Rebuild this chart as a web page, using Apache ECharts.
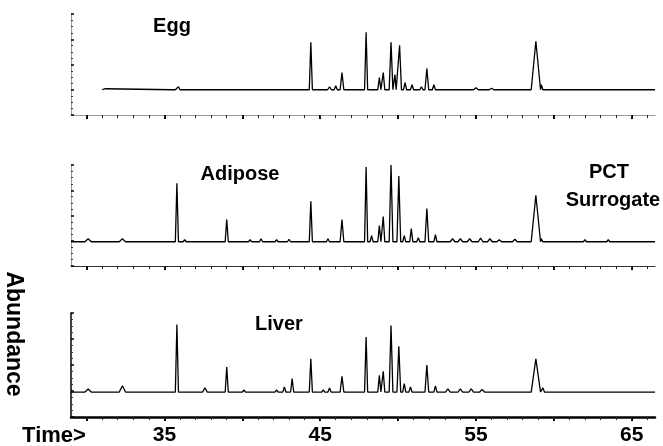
<!DOCTYPE html>
<html><head><meta charset="utf-8">
<script src="https://cdn.jsdelivr.net/npm/echarts@6/dist/echarts.min.js"></script>
<style>html,body{margin:0;padding:0;background:#fff}#c{width:663px;height:446px}</style>
</head><body><div id="c"></div>
<script>
// ---- axis data ----
const timeMin = 29;
const timeMax = 66.5;
const labelTimes = [35, 45, 55, 65];
const majorTickTimes = [30, 35, 40, 45, 50, 55, 60, 65];
const minorTickTimes = [30,31,32,33,34,35,36,37,38,39,40,41,42,43,44,45,46,47,48,49,50,51,52,53,54,55,56,57,58,59,60,61,62,63,64,65,66];
const panelTitles = ['Egg', 'Adipose', 'Liver'];

// ---- Egg trace ----
const eggBaseline = 25;
const eggStart = 31;
const eggEnd = 66.5;
const eggTimes   = [31.2, 35.6, 35.9, 38.9, 40.0, 41.2, 42.0, 43.0, 44.4, 45.6, 46.0, 46.4, 47.95, 48.8, 49.05, 49.55, 49.8, 50.1, 50.45, 50.9, 51.5, 51.85, 52.3, 53.0, 55.0, 56.0, 57.5, 58.85, 59.2];
const eggHeights = [26, 26.5, 28, 26, 26.5, 26, 26, 26, 72, 28, 29, 42, 82, 37, 42, 72, 40, 69, 32, 30, 28, 46, 30, 26, 27, 26.5, 26, 73, 30];
const eggWidths  = [0.1, 0.1, 0.1, 0.1, 0.1, 0.1, 0.1, 0.1, 0.1, 0.12, 0.1, 0.12, 0.1, 0.1, 0.1, 0.12, 0.08, 0.12, 0.1, 0.1, 0.1, 0.12, 0.1, 0.1, 0.15, 0.15, 0.1, 0.3, 0.1];

// ---- Adipose trace ----
const adiBaseline = 24;
const adiStart = 29;
const adiEnd = 66.5;
const adiTimes   = [30.1, 32.3, 35.8, 36.3, 39.0, 40.5, 41.2, 42.2, 43.0, 44.4, 45.5, 46.4, 47.95, 48.3, 48.8, 49.05, 49.55, 50.05, 50.4, 50.85, 51.3, 51.85, 52.4, 53.5, 54.0, 54.6, 55.3, 55.9, 56.5, 57.5, 58.85, 59.2, 62.0, 63.5];
const adiHeights = [27, 27, 82, 26, 46, 26, 27, 26, 26.5, 64, 27, 46, 98, 30, 40, 49, 100, 89, 30, 37, 28, 57, 31, 27, 27, 27, 27.5, 27, 26, 26.5, 70, 27, 26, 26];
const adiWidths  = [0.2, 0.2, 0.1, 0.1, 0.1, 0.1, 0.1, 0.1, 0.1, 0.1, 0.1, 0.12, 0.1, 0.1, 0.1, 0.1, 0.12, 0.12, 0.1, 0.1, 0.1, 0.12, 0.1, 0.15, 0.15, 0.15, 0.15, 0.15, 0.15, 0.15, 0.3, 0.1, 0.1, 0.1];

// ---- Liver trace ----
const livBaseline = 24;
const livStart = 29;
const livEnd = 66.5;
const livTimes   = [30.1, 32.3, 35.8, 37.6, 38.3, 39.0, 40.1, 41.0, 42.2, 42.7, 43.2, 44.4, 45.2, 45.6, 46.4, 47.95, 48.8, 49.05, 49.55, 50.05, 50.4, 50.8, 51.85, 52.4, 53.2, 54.0, 54.7, 55.4, 58.85, 59.3, 61.0];
const livHeights = [27, 30, 89, 28, 25.5, 48, 26, 25.5, 26, 29, 37, 56, 26, 28, 39, 77, 40, 44, 88, 68, 32, 29, 50, 30, 27, 27, 27, 26.5, 56, 28, 25];
const livWidths  = [0.2, 0.2, 0.1, 0.15, 0.1, 0.1, 0.1, 0.1, 0.1, 0.1, 0.1, 0.1, 0.1, 0.1, 0.12, 0.1, 0.1, 0.1, 0.12, 0.12, 0.1, 0.1, 0.12, 0.1, 0.15, 0.15, 0.15, 0.15, 0.3, 0.1, 0.1];

function trace(times, heights, widths, base, start, end) {
  const pts = [[start, base]];
  for (let i = 0; i < times.length; i++) {
    pts.push([times[i] - widths[i], base]);
    pts.push([times[i], heights[i]]);
    pts.push([times[i] + widths[i], base]);
  }
  pts.push([end, base]);
  return pts;
}

const traces = [
  trace(eggTimes, eggHeights, eggWidths, eggBaseline, eggStart, eggEnd),
  trace(adiTimes, adiHeights, adiWidths, adiBaseline, adiStart, adiEnd),
  trace(livTimes, livHeights, livWidths, livBaseline, livStart, livEnd)
];

const FONT = '"Liberation Sans", Arial, sans-serif';
const gridTops = [14, 165, 313];
const gridHeights = [101, 101, 104];
const bottomLineColor = ['#9a9a9a', '#333', '#000'];
const bottomLineWidth = [1, 1, 2.5];
const leftLineColor = ['#9a9a9a', '#9a9a9a', '#000'];
const leftLineWidth = [1, 1, 1.5];

const grids = [], xAxes = [], yAxes = [], series = [];
for (let i = 0; i < 3; i++) {
  grids.push({ left: 71, width: 584, top: gridTops[i], height: gridHeights[i] });
  xAxes.push({
    type: 'value', gridIndex: i, position: 'bottom', min: timeMin, max: timeMax,
    axisLine: { show: true, onZero: false, lineStyle: { color: bottomLineColor[i], width: bottomLineWidth[i] } },
    axisTick: { show: true, customValues: majorTickTimes, length: 4, lineStyle: { color: '#000', width: 2 } },
    axisLabel: { show: i === 2, customValues: labelTimes, fontSize: 21, fontWeight: 'bold', color: '#000', fontFamily: FONT, margin: 8 },
    splitLine: { show: false }
  });
  xAxes.push({
    type: 'value', gridIndex: i, position: 'bottom', min: timeMin, max: timeMax,
    axisLine: { show: false },
    axisTick: { show: true, customValues: minorTickTimes, length: 3, lineStyle: { color: '#222', width: 1 } },
    axisLabel: { show: false },
    splitLine: { show: false }
  });
  yAxes.push({
    type: 'value', gridIndex: i, min: 0, max: 100, interval: 25,
    axisLine: { show: true, onZero: false, lineStyle: { color: leftLineColor[i], width: leftLineWidth[i] } },
    axisTick: { show: true, inside: true, length: 3, lineStyle: { color: '#000', width: 1.5 } },
    minorTick: { show: true, splitNumber: 4, length: 2, lineStyle: { color: '#333', width: 1 } },
    axisLabel: { show: false },
    splitLine: { show: false }
  });
  series.push({
    type: 'line', xAxisIndex: i * 2, yAxisIndex: i, data: traces[i],
    showSymbol: false, symbol: 'none', silent: true,
    lineStyle: { color: '#000', width: 1.3 }
  });
}

const txt = (t, x, y, opts) => Object.assign({
  type: 'text', x: x, y: y,
  style: Object.assign({ text: t, font: 'bold 20px ' + FONT, fill: '#000', align: 'center', verticalAlign: 'middle' }, opts || {})
});

const chart = echarts.init(document.getElementById('c'), null, { renderer: 'canvas' });
chart.setOption({
  animation: false,
  backgroundColor: '#fff',
  grid: grids, xAxis: xAxes, yAxis: yAxes, series: series,
  graphic: [
    txt(panelTitles[0], 172, 26),
    txt(panelTitles[1], 240, 174),
    txt(panelTitles[2], 279, 324),
    txt('PCT', 609, 172),
    txt('Surrogate', 613, 200),
    txt('Time>', 54, 436, { font: 'bold 22px ' + FONT }),
    { type: 'text', x: 13, y: 334, rotation: -Math.PI / 2,
      style: { text: 'Abundance', font: 'bold 23px ' + FONT, fill: '#000', align: 'center', verticalAlign: 'middle' } }
  ]
});
</script></body></html>
